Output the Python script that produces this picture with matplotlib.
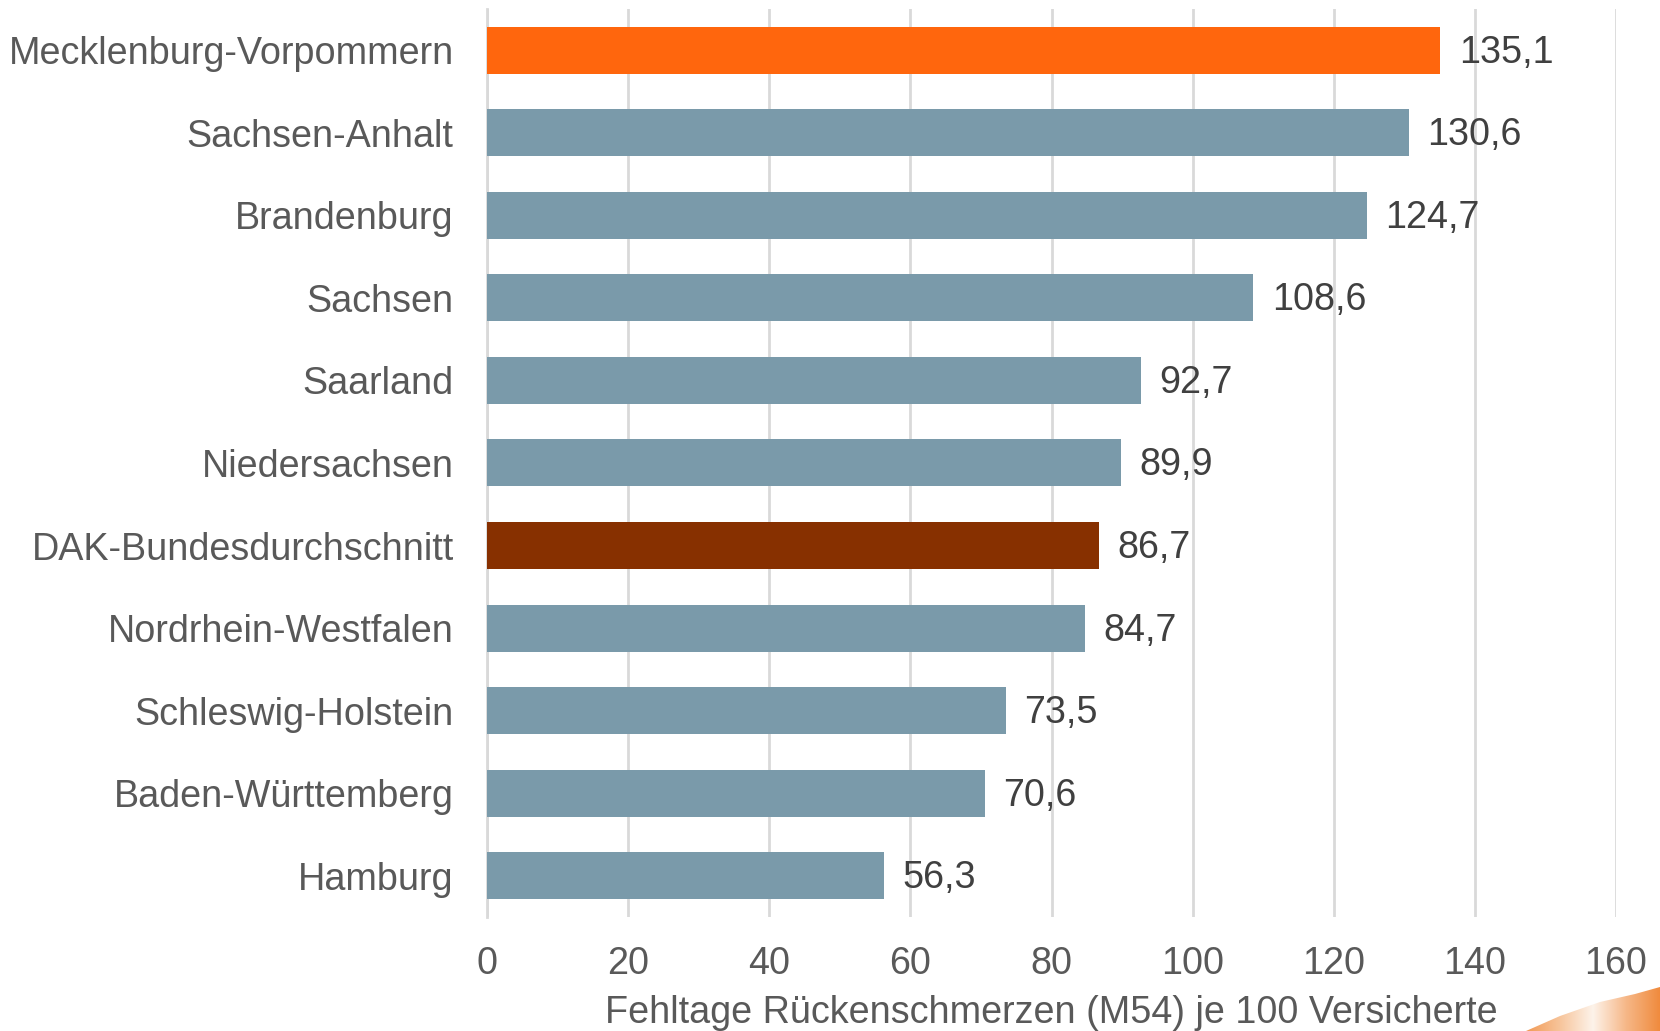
import numpy as np
import matplotlib.pyplot as plt
from matplotlib.patches import Polygon
from matplotlib.colors import LinearSegmentedColormap

plt.rcParams['font.family'] = ['Liberation Sans', 'DejaVu Sans']

# Fehltage je 100 Versicherte nach Bundesland (top to bottom)
states = ["Mecklenburg-Vorpommern", "Sachsen-Anhalt", "Brandenburg", "Sachsen",
          "Saarland", "Niedersachsen", "DAK-Bundesdurchschnitt",
          "Nordrhein-Westfalen", "Schleswig-Holstein", "Baden-Württemberg",
          "Hamburg"]
days = [135.1, 130.6, 124.7, 108.6, 92.7, 89.9, 86.7, 84.7, 73.5, 70.6, 56.3]
highlight = {"Mecklenburg-Vorpommern": "#FF660D",
             "DAK-Bundesdurchschnitt": "#873000"}
x_ticks = [0, 20, 40, 60, 80, 100, 120, 140, 160]

base_color = "#7A9AAA"
label_gray = "#595959"
value_gray = "#404040"
fs = 27.2

fig = plt.figure(figsize=(16.6, 10.31), dpi=100)
ax = fig.add_axes([0.2934, 0.1106, 0.6801, 0.8807])

ypos = np.arange(len(states))
colors = [highlight.get(s, base_color) for s in states]
bars = ax.barh(ypos, days, height=0.57, color=colors, zorder=2)

for bar, v in zip(bars, days):
    ax.text(bar.get_width() + 2.6, bar.get_y() + bar.get_height() / 2 + 0.03,
            f"{v:.1f}".replace(".", ","), va="center", ha="left",
            fontsize=fs, color=value_gray)

ax.set_yticks(ypos)
ax.set_yticklabels(states, fontsize=fs, color=label_gray)
ax.set_ylim(len(states) - 0.5, -0.5)
ax.set_xlim(0, 160)
ax.set_xticks(x_ticks)
ax.set_xticklabels([str(t) for t in x_ticks], fontsize=fs, color=label_gray)
ax.tick_params(axis="y", length=0, pad=24)
ax.tick_params(axis="x", length=0, pad=21)

ax.grid(axis="x", color="#D9D9D9", linewidth=2, zorder=0)
for side in ["top", "right", "bottom"]:
    ax.spines[side].set_visible(False)
ax.spines["left"].set_color("#D9D9D9")
ax.spines["left"].set_linewidth(2)
ax.spines["left"].set_zorder(1)

ax.set_xlabel("Fehltage Rückenschmerzen (M54) je 100 Versicherte",
              fontsize=fs, color=label_gray, labelpad=9)

# orange swoosh in the lower right corner
W, H = 1660, 1031
pts = np.array([[1526, 0], [1560, 15], [1600, 29], [1635, 37], [1660, 44], [1660, 0]])
pts = pts / [W, H]
swoosh = Polygon(pts, closed=True, transform=fig.transFigure, facecolor="none",
                 edgecolor="none")
fig.add_artist(swoosh)
cmap = LinearSegmentedColormap.from_list(
    "swoosh", ["#F29A55", "#F7C49A", "#FDF3EA", "#F6B787", "#F08B3E"])
grad = np.linspace(0, 1, 256).reshape(1, -1)
img_ax = fig.add_axes([0, 0, 1, 1], zorder=-1)
img_ax.set_axis_off()
img_ax.set_xlim(0, 1)
img_ax.set_ylim(0, 1)
img = img_ax.imshow(grad, cmap=cmap, aspect="auto",
                    extent=[1526 / W, 1.0, 0, 44 / H])
img.set_clip_path(swoosh)

fig.savefig("out.png", dpi=100)
